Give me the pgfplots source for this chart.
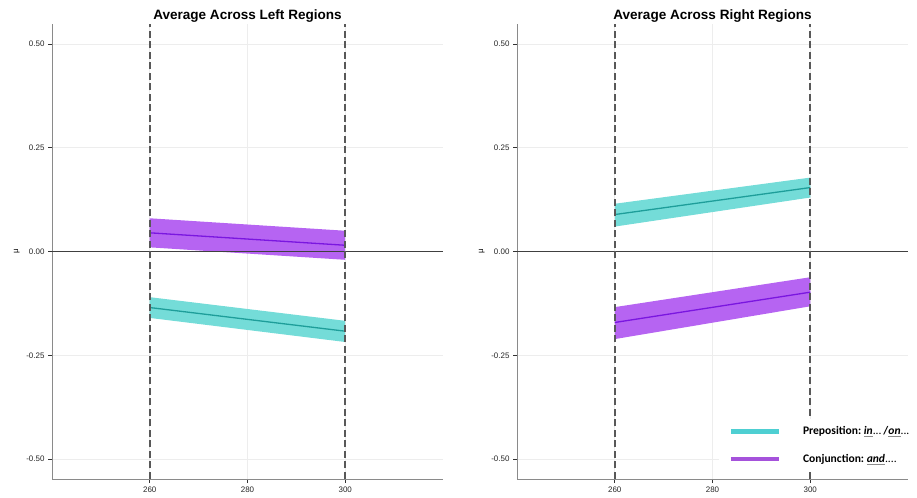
\documentclass[border=0pt]{standalone}
\usepackage{pgfplots}
\pgfplotsset{compat=1.18}
\usepackage{fontspec}
\setmainfont{Liberation Sans}
\newfontfamily\legfont{Carlito}
\definecolor{cyanband}{HTML}{74DCD8}
\definecolor{cyanline}{HTML}{1E9E9A}
\definecolor{purpband}{HTML}{B664F2}
\definecolor{purpline}{HTML}{7A16E0}
\definecolor{legcyan}{HTML}{4ECFD2}
\definecolor{legpurp}{HTML}{A552DB}
\definecolor{axgray}{HTML}{8A8A8A}
\definecolor{dashgray}{HTML}{585858}
\newcommand{\gul}[1]{\textcolor{black!45}{\underline{\textcolor{black}{\textit{#1}}}}}
\pgfplotsset{panel/.style={
  scale only axis, width=391bp, height=455bp, anchor=south west,
  xmin=240, xmax=320, ymin=-0.548, ymax=0.548,
  axis x line*=bottom, axis y line*=left,
  axis line style={-, color=axgray, line width=0.7bp},
  xtick={260,280,300}, ytick={-0.5,-0.25,0,0.25,0.5},
  tick align=outside, major tick length=4bp,
  tick style={color=black!80, line width=0.6bp},
  grid=major, grid style={color=black!7, line width=0.6bp},
  /pgf/number format/assume math mode=true,
  yticklabel style={/pgf/number format/fixed, /pgf/number format/fixed zerofill, /pgf/number format/precision=2},
  xticklabel style={/pgf/number format/1000 sep={}},
  tick label style={font=\fontsize{8}{9}\selectfont, color=black!85},
  ylabel={μ},
  every axis y label/.style={at={(axis description cs:-0.09,0.5)}, rotate=90, anchor=center, font=\fontsize{8}{9}\selectfont},
  title style={font=\bfseries\fontsize{13.6}{15}\selectfont, at={(0.5,1)}, anchor=south, yshift=-8bp},
  clip=false,
}}
\begin{document}
\begin{tikzpicture}
\useasboundingbox (0,0) rectangle (917bp,498bp);
% Left panel
\begin{axis}[panel, at={(52bp,19bp)}, title={Average Across Left Regions}]
\addplot[fill=purpband, draw=none, forget plot] coordinates {(260,0.080) (300,0.050) (300,-0.020) (260,0.010)} -- cycle;
\addplot[fill=cyanband, draw=none, forget plot] coordinates {(260,-0.110) (300,-0.167) (300,-0.218) (260,-0.160)} -- cycle;
\addplot[purpline, line width=1.3bp, forget plot] coordinates {(260,0.045) (300,0.015)};
\addplot[cyanline, line width=1.3bp, forget plot] coordinates {(260,-0.135) (300,-0.192)};
\addplot[black!75, line width=1.3bp, forget plot] coordinates {(240,0) (320,0)};
\addplot[dashgray, line width=1.7bp, dash pattern=on 7bp off 3.5bp, forget plot] coordinates {(260,-0.548) (260,0.548)};
\addplot[dashgray, line width=1.7bp, dash pattern=on 7bp off 3.5bp, forget plot] coordinates {(300,-0.548) (300,0.548)};
\end{axis}
% Right panel
\begin{axis}[panel, at={(517bp,19bp)}, title={Average Across Right Regions},
  legend style={at={(0.515,0.015)}, anchor=south west, fill=white, draw=none,
    font=\legfont\bfseries\fontsize{11.6}{13}\selectfont, row sep=14bp, inner ysep=6bp, inner xsep=10bp,
    /tikz/every odd column/.append style={column sep=20bp}},
  legend cell align=left,
  legend image code/.code={\draw[#1, line width=4.5bp] (0bp,0bp) -- (48bp,0bp);}]
\addplot[fill=cyanband, draw=none, forget plot] coordinates {(260,0.115) (300,0.178) (300,0.130) (260,0.060)} -- cycle;
\addplot[fill=purpband, draw=none, forget plot] coordinates {(260,-0.134) (300,-0.062) (300,-0.132) (260,-0.211)} -- cycle;
\addplot[cyanline, line width=1.3bp, forget plot] coordinates {(260,0.089) (300,0.154)};
\addplot[purpline, line width=1.3bp, forget plot] coordinates {(260,-0.171) (300,-0.098)};
\addplot[black!75, line width=1.3bp, forget plot] coordinates {(240,0) (320,0)};
\addplot[dashgray, line width=1.7bp, dash pattern=on 7bp off 3.5bp, forget plot] coordinates {(260,-0.548) (260,0.548)};
\addplot[dashgray, line width=1.7bp, dash pattern=on 7bp off 3.5bp, forget plot] coordinates {(300,-0.548) (300,0.548)};
\addlegendimage{legcyan}
\addlegendentry{Preposition:\ \gul{in}\textmd{...}\,/\gul{on}\textmd{...}}
\addlegendimage{legpurp}
\addlegendentry{Conjunction:\ \gul{and}\textmd{....}}
\end{axis}
\end{tikzpicture}
\end{document}
